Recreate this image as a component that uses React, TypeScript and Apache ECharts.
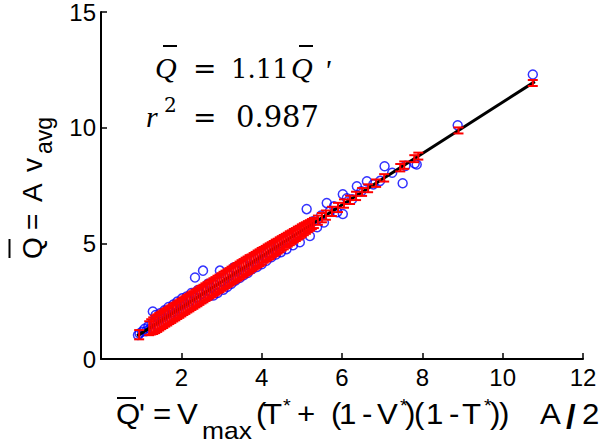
import React, { useEffect, useRef } from "react";
import * as echarts from "echarts";

// Axis settings
const xMin = 0, xMax = 12, xStep = 2;
const yMin = 0, yMax = 15, yStep = 5;

// Observed points: [Q' , Q]
const bluePts: [number, number][] = [
  [0.92, 1.04], [0.96, 1.10], [1.02, 1.18], [1.08, 1.30], [1.12, 1.20], [1.18, 1.42],
  [1.22, 1.30], [1.26, 1.52], [1.29, 2.05], [1.33, 1.62], [1.36, 1.90], [1.40, 1.48],
  [1.44, 1.70], [1.47, 1.98], [1.50, 1.60], [1.54, 1.82], [1.58, 2.10], [1.61, 1.70],
  [1.65, 1.95], [1.68, 2.25], [1.72, 1.80], [1.76, 2.02], [1.80, 2.35], [1.83, 1.92],
  [1.87, 2.18], [1.90, 2.48], [1.94, 2.05], [1.98, 2.30], [2.02, 2.62], [2.05, 2.15],
  [2.09, 2.40], [2.13, 2.70], [2.17, 2.28], [2.21, 2.52], [2.25, 2.85], [2.29, 2.38],
  [2.34, 3.52], [2.37, 2.66], [2.41, 2.98], [2.45, 2.50], [2.50, 2.80], [2.54, 3.82],
  [2.58, 2.62], [2.62, 2.95], [2.66, 3.25], [2.70, 2.72], [2.75, 3.08], [2.80, 2.75],
  [2.85, 3.20], [2.90, 2.85], [2.96, 3.82], [3.00, 3.35], [3.05, 3.00], [3.10, 3.50],
  [3.15, 3.12], [3.20, 3.62], [3.25, 3.25], [3.30, 3.95], [3.35, 3.40], [3.40, 3.82],
  [3.45, 3.50], [3.50, 4.10], [3.55, 3.62], [3.60, 4.05], [3.65, 3.72], [3.70, 4.30],
  [3.76, 3.88], [3.82, 4.35], [3.88, 3.98], [3.94, 4.50], [4.00, 4.10], [4.06, 4.62],
  [4.12, 4.25], [4.18, 4.78], [4.24, 4.40], [4.30, 4.90], [4.36, 4.52], [4.42, 5.00],
  [4.48, 4.62], [4.55, 5.15], [4.62, 4.75], [4.70, 5.30], [4.78, 4.92], [4.86, 5.45],
  [4.95, 5.05], [5.05, 5.70], [5.12, 6.48], [5.20, 5.32], [5.28, 5.95], [5.38, 5.70],
  [5.48, 6.20], [5.55, 5.90], [5.62, 6.74], [5.70, 6.40], [5.80, 6.60], [5.88, 6.35],
  [6.02, 7.12], [6.02, 6.27], [6.12, 6.95], [6.25, 6.90], [6.37, 7.47], [6.48, 7.25],
  [6.62, 7.68], [6.78, 7.55], [6.95, 7.70], [7.06, 8.33], [7.25, 8.05], [7.51, 7.60],
  [7.58, 8.35], [7.81, 8.45], [7.86, 8.41], [8.88, 10.10], [10.75, 12.30],
];

// Red error bars: [Q', centre, half-height]
const redBars: [number, number, number][] = [
  [0.95, 1.05, 0.2],
  [1.20, 1.33, 0.3], [1.25, 1.39, 0.33], [1.30, 1.44, 0.36], [1.35, 1.50, 0.38], [1.40, 1.55, 0.38],
  [1.45, 1.61, 0.38], [1.50, 1.67, 0.38], [1.55, 1.72, 0.38], [1.60, 1.78, 0.38], [1.65, 1.83, 0.38],
  [1.70, 1.89, 0.38], [1.75, 1.94, 0.38], [1.80, 2.00, 0.38], [1.85, 2.05, 0.38], [1.90, 2.11, 0.38],
  [1.95, 2.16, 0.38], [2.00, 2.22, 0.38], [2.05, 2.28, 0.38], [2.10, 2.33, 0.38], [2.15, 2.39, 0.38],
  [2.20, 2.44, 0.38], [2.25, 2.50, 0.38], [2.30, 2.55, 0.38], [2.35, 2.61, 0.38], [2.40, 2.66, 0.38],
  [2.45, 2.72, 0.38], [2.50, 2.78, 0.38], [2.55, 2.83, 0.38], [2.60, 2.89, 0.38], [2.65, 2.94, 0.38],
  [2.70, 3.00, 0.38], [2.75, 3.05, 0.38], [2.80, 3.11, 0.38], [2.85, 3.16, 0.38], [2.90, 3.22, 0.38],
  [2.95, 3.27, 0.38], [3.00, 3.33, 0.38], [3.05, 3.39, 0.38], [3.10, 3.44, 0.38], [3.15, 3.50, 0.38],
  [3.20, 3.55, 0.38], [3.25, 3.61, 0.38], [3.30, 3.66, 0.38], [3.35, 3.72, 0.38], [3.40, 3.77, 0.38],
  [3.45, 3.83, 0.38], [3.50, 3.89, 0.38], [3.55, 3.94, 0.38], [3.60, 4.00, 0.38], [3.65, 4.05, 0.38],
  [3.70, 4.11, 0.38], [3.75, 4.16, 0.36], [3.80, 4.22, 0.36], [3.85, 4.27, 0.36], [3.90, 4.33, 0.36],
  [3.95, 4.38, 0.36], [4.00, 4.44, 0.36], [4.05, 4.50, 0.34], [4.10, 4.55, 0.34], [4.15, 4.61, 0.34],
  [4.20, 4.66, 0.34], [4.25, 4.72, 0.33], [4.30, 4.77, 0.33], [4.35, 4.83, 0.33], [4.40, 4.88, 0.32],
  [4.45, 4.94, 0.32], [4.50, 5.00, 0.31], [4.55, 5.05, 0.31], [4.60, 5.11, 0.3], [4.65, 5.16, 0.3],
  [4.70, 5.22, 0.3], [4.75, 5.27, 0.29], [4.80, 5.33, 0.29], [4.85, 5.38, 0.28], [4.90, 5.44, 0.28],
  [4.95, 5.49, 0.27], [5.00, 5.55, 0.27], [5.05, 5.61, 0.26], [5.10, 5.66, 0.25], [5.15, 5.72, 0.24],
  [5.20, 5.77, 0.23], [5.25, 5.83, 0.22], [5.30, 5.88, 0.22],
  [5.40, 6.00, 0.2], [5.50, 6.11, 0.2], [5.60, 6.22, 0.2], [5.75, 6.38, 0.2], [5.90, 6.55, 0.2],
  [6.05, 6.72, 0.18], [6.20, 6.88, 0.18], [6.35, 7.05, 0.18], [6.50, 7.22, 0.17], [6.65, 7.38, 0.17],
  [6.85, 7.60, 0.16], [7.05, 7.83, 0.16], [7.45, 8.27, 0.16], [7.55, 8.38, 0.16], [7.80, 8.66, 0.15],
  [7.90, 8.77, 0.15], [8.90, 9.88, 0.13], [10.75, 11.93, 0.13],
];

// Fitted line Q = 1.11 Q'
const fitLine: [number, number][] = [[0.9, 1.0], [10.8, 11.99]];

const SANS = "'Liberation Sans', Arial, sans-serif";
const SERIF_I = "'Liberation Serif', 'Times New Roman', serif";
const SERIF = "'DejaVu Serif', serif";

function txt(
  x: number,
  baseline: number,
  text: string,
  size: number,
  family: string,
  italic = false,
  sx = 1,
  bold = false
) {
  return {
    type: "text",
    x,
    y: baseline - 0.345 * size,
    scaleX: sx,
    silent: true,
    z: 100,
    style: {
      text,
      fill: "#000",
      font: `${italic ? "italic " : ""}${bold ? "bold " : ""}${size}px ${family}`,
      textAlign: "left",
      textVerticalAlign: "middle",
      verticalAlign: "middle",
    },
  };
}

function bar(x1: number, x2: number, y: number, w = 2) {
  return {
    type: "line",
    silent: true,
    z: 100,
    shape: { x1, y1: y, x2, y2: y },
    style: { stroke: "#000", lineWidth: w },
  };
}

export default function App() {
  const ref = useRef<HTMLDivElement>(null);
  useEffect(() => {
    document.body.style.margin = "0";
    if (!ref.current) return;
    const chart = echarts.init(ref.current, undefined, { renderer: "svg" });

    // x-axis title pieces
    const xb = 424, xs = 30, k = 1.04;
    const T = (x: number, t: string) => txt(x, xb, t, xs, SANS, false, k);
    const S = (x: number) => txt(x, 412, "*", 19, SANS, false, 1.05);
    const xTitle: any[] = [
      bar(117, 136, 398, 2),
      T(116, "Q"),
      T(139, "'"),
      T(153, "="),
      T(177, "V"),
      txt(202, 439, "max", 24, SANS, false, 1.1),
      T(256, "("),
      T(263, "T"),
      S(283),
      T(297, "+"),
      T(331, "("),
      T(339, "1"),
      T(362, "-"),
      T(377, "V"),
      S(400),
      T(405, ")"),
      T(414, "("),
      T(426, "1"),
      T(449, "-"),
      T(462, "T"),
      S(484),
      T(490, ")"),
      T(499, ")"),
      T(540, "A"),
      txt(566, 428, "/", 33, SANS, false, 1.05, true),
      T(582, "2"),
    ];

    // y-axis title (rotated)
    const ys = 28;
    const yTitle = {
      type: "group",
      x: 42,
      y: 260,
      rotation: Math.PI / 2,
      z: 100,
      children: [
        bar(2, 21, -32.5, 2),
        txt(1, 0, "Q", ys, SANS),
        txt(30, 0, "=", ys, SANS),
        txt(58, 0, "A", ys, SANS),
        txt(88, 0, "v", ys, SANS),
        txt(106, 10, "avg", 23, SANS),
      ],
    };

    // annotation
    const annot: any[] = [
      txt(155, 78, "Q", 30, SERIF_I, true),
      bar(163, 177, 46, 2),
      txt(193, 78, "=", 28, SERIF),
      txt(231, 78, "1.11", 26, SERIF),
      txt(291, 78, "Q", 30, SERIF_I, true),
      bar(299, 313, 46, 2),
      txt(324, 80, "'", 30, SERIF_I, true),
      txt(146, 127, "r", 30, SERIF_I, true),
      txt(164, 112, "2", 20, SERIF),
      txt(193, 127, "=", 28, SERIF),
      txt(236, 127, "0.987", 29, SERIF),
    ];

    const option: any = {
      animation: false,
      backgroundColor: "#fff",
      grid: { left: 101, right: 17, top: 10, bottom: 84, containLabel: false },
      xAxis: {
        type: "value",
        min: xMin,
        max: xMax,
        interval: xStep,
        axisLine: { show: true, onZero: false, lineStyle: { color: "#000", width: 2 } },
        axisTick: { show: true, inside: true, length: 6, lineStyle: { color: "#000", width: 1.5 } },
        axisLabel: {
          color: "#000",
          fontSize: 24,
          fontFamily: SANS,
          margin: 6,
          formatter: (v: number) => (v === 0 ? "" : String(v)),
        },
        splitLine: { show: false },
      },
      yAxis: {
        type: "value",
        min: yMin,
        max: yMax,
        interval: yStep,
        axisLine: { show: true, onZero: false, lineStyle: { color: "#000", width: 2 } },
        axisTick: { show: true, inside: true, length: 6, lineStyle: { color: "#000", width: 1.5 } },
        axisLabel: { color: "#000", fontSize: 24, fontFamily: SANS, margin: 5 },
        splitLine: { show: false },
      },
      series: [
        {
          type: "scatter",
          data: bluePts,
          symbol: "circle",
          symbolSize: 9,
          itemStyle: { color: "rgba(0,0,0,0)", borderColor: "#0000ff", borderWidth: 1.5 },
          z: 2,
        },
        {
          type: "line",
          data: fitLine,
          showSymbol: false,
          lineStyle: { color: "#000", width: 3 },
          z: 3,
        },
        {
          type: "custom",
          data: redBars,
          encode: { x: 0, y: 1 },
          z: 4,
          renderItem: (_p: any, api: any) => {
            const x = api.value(0);
            const c = api.value(1);
            const e = api.value(2);
            const p1 = api.coord([x, c + e]);
            const p2 = api.coord([x, c - e]);
            const w = 5;
            const style = { stroke: "#ff0000", lineWidth: 2 };
            return {
              type: "group",
              children: [
                { type: "line", shape: { x1: p1[0], y1: p1[1], x2: p2[0], y2: p2[1] }, style },
                { type: "line", shape: { x1: p1[0] - w, y1: p1[1], x2: p1[0] + w, y2: p1[1] }, style },
                { type: "line", shape: { x1: p2[0] - w, y1: p2[1], x2: p2[0] + w, y2: p2[1] }, style },
              ],
            };
          },
        },
      ],
      graphic: [...xTitle, yTitle, ...annot],
    };
    chart.setOption(option);
    return () => chart.dispose();
  }, []);
  return <div ref={ref} style={{ width: 600, height: 443 }} />;
}
